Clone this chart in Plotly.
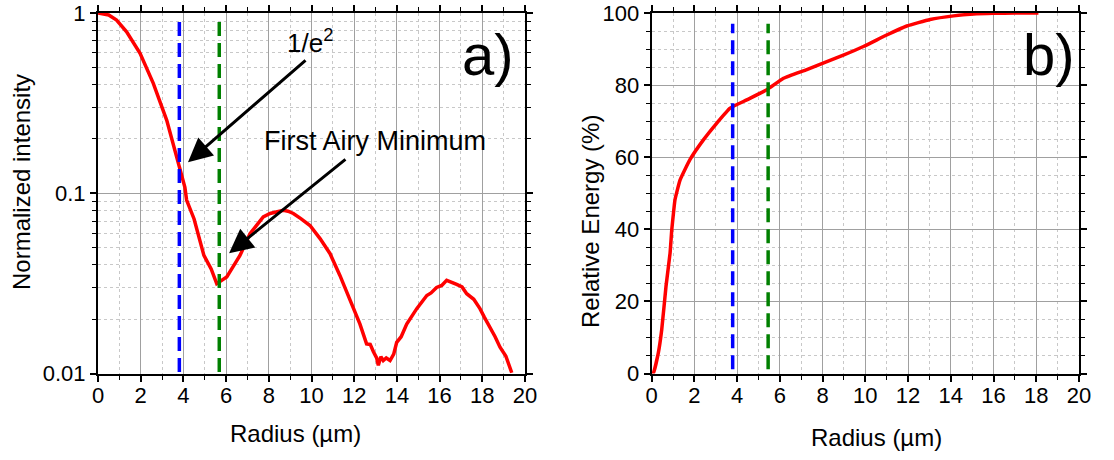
import plotly.graph_objects as go

# ---------------- data ----------------
radius_int = [0, 0.5, 0.87, 1.34, 1.97, 2.59, 3.22, 3.69, 4.07, 4.15, 4.5, 4.96, 5.3, 5.56,
              5.8, 6.03, 6.4, 6.65, 7.12, 7.45, 7.74, 8.06, 8.37, 8.68, 8.9, 9.15, 9.5, 9.93,
              10.40, 10.87, 11.33, 11.80, 12.27, 12.58, 12.75, 12.90, 13.05, 13.13, 13.25,
              13.36, 13.5, 13.68, 13.85, 13.99, 14.2, 14.46, 14.93, 15.40, 15.6, 15.86, 16.1,
              16.33, 16.55, 16.80, 17.05, 17.27, 17.6, 17.89, 18.1, 18.36, 18.6, 18.83, 19.1,
              19.38]
intensity = [1.0, 0.975, 0.914, 0.787, 0.597, 0.407, 0.254, 0.159, 0.108, 0.0917, 0.072, 0.0452,
             0.038, 0.0315, 0.0330, 0.0343, 0.0404, 0.0452, 0.0596, 0.0670, 0.0740, 0.0772,
             0.0788, 0.0805, 0.0795, 0.0772, 0.0723, 0.0662, 0.0560, 0.0462, 0.0350, 0.0260,
             0.0188, 0.0146, 0.0145, 0.0132, 0.0122, 0.0111, 0.0124, 0.0118, 0.0122, 0.0118,
             0.0128, 0.0149, 0.0160, 0.0188, 0.0229, 0.0271, 0.0280, 0.0300, 0.0308, 0.0329,
             0.0322, 0.0312, 0.0302, 0.0277, 0.0258, 0.0229, 0.0205, 0.0181, 0.0160, 0.0140,
             0.0125, 0.0101]

radius_en = [0, 0.08, 0.31, 0.47, 0.67, 0.86, 0.94, 1.01, 1.09, 1.33, 1.79, 2.42, 3.04, 3.67,
             4.45, 5.39, 6.17, 7.26, 8.20, 8.97, 9.91, 11.0, 11.94, 13.03, 14.13, 15.06, 16.0,
             17.0, 18.1]
energy = [0, 0.2, 5.7, 12.2, 24.2, 33.4, 39.9, 44.0, 48.2, 53.7, 59.3, 64.8, 69.4, 73.6, 75.9,
          78.7, 81.9, 84.3, 86.5, 88.3, 90.7, 93.9, 96.4, 98.2, 99.2, 99.7, 99.9, 100, 100]

# marker lines (1/e^2 radius and first Airy minimum)
blue_r_a, green_r_a = 3.81, 5.68
blue_r_b, green_r_b = 3.79, 5.45
int_line_span = [0.0102, 0.93]
en_line_span = [1.2, 97]

x_ticks = list(range(0, 21, 2))
y_ticks_a = [0.01, 0.1, 1]
y_ticktext_a = ["0.01", "0.1", "1"]
y_minor_a = [m * d for d in (0.01, 0.1) for m in range(2, 10)]
y_ticks_b = [0, 20, 40, 60, 80, 100]

FONT = "Liberation Sans, Arial, sans-serif"
W, H = 1114, 460

def px(x):
    return x / W

def py(y):
    return 1 - y / H

fig = go.Figure()

RED_W = 3.5
fig.add_trace(go.Scatter(x=radius_int, y=intensity, mode="lines",
                         line=dict(color="#ff0000", width=RED_W), xaxis="x", yaxis="y"))
fig.add_trace(go.Scatter(x=[blue_r_a, blue_r_a], y=int_line_span, mode="lines",
                         line=dict(color="#0000ff", width=3.5, dash="14px,7px"), xaxis="x", yaxis="y"))
fig.add_trace(go.Scatter(x=[green_r_a, green_r_a], y=int_line_span, mode="lines",
                         line=dict(color="#008000", width=3.5, dash="14px,7px"), xaxis="x", yaxis="y"))

fig.add_trace(go.Scatter(x=radius_en, y=energy, mode="lines",
                         line=dict(color="#ff0000", width=RED_W, shape="spline", smoothing=0.4),
                         xaxis="x2", yaxis="y2"))
fig.add_trace(go.Scatter(x=[blue_r_b, blue_r_b], y=en_line_span, mode="lines",
                         line=dict(color="#0000ff", width=3.5, dash="14px,7px"), xaxis="x2", yaxis="y2"))
fig.add_trace(go.Scatter(x=[green_r_b, green_r_b], y=en_line_span, mode="lines",
                         line=dict(color="#008000", width=3.5, dash="14px,7px"), xaxis="x2", yaxis="y2"))

ydom = [1 - 373.5 / H, 1 - 13 / H]

common = dict(showline=True, linecolor="black", linewidth=2, mirror="ticks",
              ticks="outside", ticklen=6, tickwidth=1.5, tickcolor="black",
              showgrid=True, gridcolor="#a0a0a0", gridwidth=1, zeroline=False,
              automargin=False, tickfont=dict(family=FONT, size=22, color="black"))

minor_style = dict(ticks="outside", ticklen=4, tickwidth=1, tickcolor="black",
                   showgrid=True, gridcolor="#c8c8c8", griddash="dot", gridwidth=1)

fig.update_layout(
    width=W, height=H, margin=dict(l=0, r=0, t=0, b=0),
    paper_bgcolor="white", plot_bgcolor="white", showlegend=False, template="none",
    xaxis=dict(domain=[98 / W, 525 / W], range=[0, 20], tickvals=x_ticks,
               minor=dict(dtick=1, **minor_style), anchor="y", ticklabelstandoff=-5, **common),
    yaxis=dict(domain=ydom, type="log", range=[-2, 0], tickvals=y_ticks_a,
               ticktext=y_ticktext_a, anchor="x",
               minor=dict(tickvals=y_minor_a, **minor_style), **common),
    xaxis2=dict(domain=[651.7 / W, 1079 / W], range=[0, 20], tickvals=x_ticks,
                minor=dict(dtick=1, **minor_style), anchor="y2", ticklabelstandoff=-5, **common),
    yaxis2=dict(domain=ydom, range=[0, 100], tickvals=y_ticks_b, anchor="x2",
                minor=dict(dtick=5, **minor_style), **common),
)

def txt(s, x, y, size, angle=0):
    return dict(text=s, x=px(x), y=py(y), xref="paper", yref="paper", showarrow=False,
                xanchor="center", yanchor="middle", textangle=angle,
                font=dict(family=FONT, size=size, color="black"))

ann = [
    txt("Radius (\u00b5m)", 295, 433, 24),
    txt("Radius (\u00b5m)", 876, 437, 24),
    txt("Normalized intensity", 22, 182, 24, -90),
    txt("Relative Energy (%)", 590, 222, 24, -90),
    txt("a)", 488, 55, 58),
    txt("b)", 1049, 55, 58),
    txt("1/e<sup>2</sup>", 310, 41, 26),
    txt("First Airy Minimum", 375, 141, 27),
]
# arrows
ann.append(dict(text="", x=4.215, y=-0.828, ax=9.79, ay=-0.2556, xref="x", yref="y",
                axref="x", ayref="y", showarrow=True, arrowhead=2, arrowsize=1.6,
                arrowwidth=3, arrowcolor="black"))
ann.append(dict(text="", x=6.14, y=-1.333, ax=11.66, ay=-0.8056, xref="x", yref="y",
                axref="x", ayref="y", showarrow=True, arrowhead=2, arrowsize=1.6,
                arrowwidth=3, arrowcolor="black"))
fig.update_layout(annotations=ann)

fig.write_html("out.html")
